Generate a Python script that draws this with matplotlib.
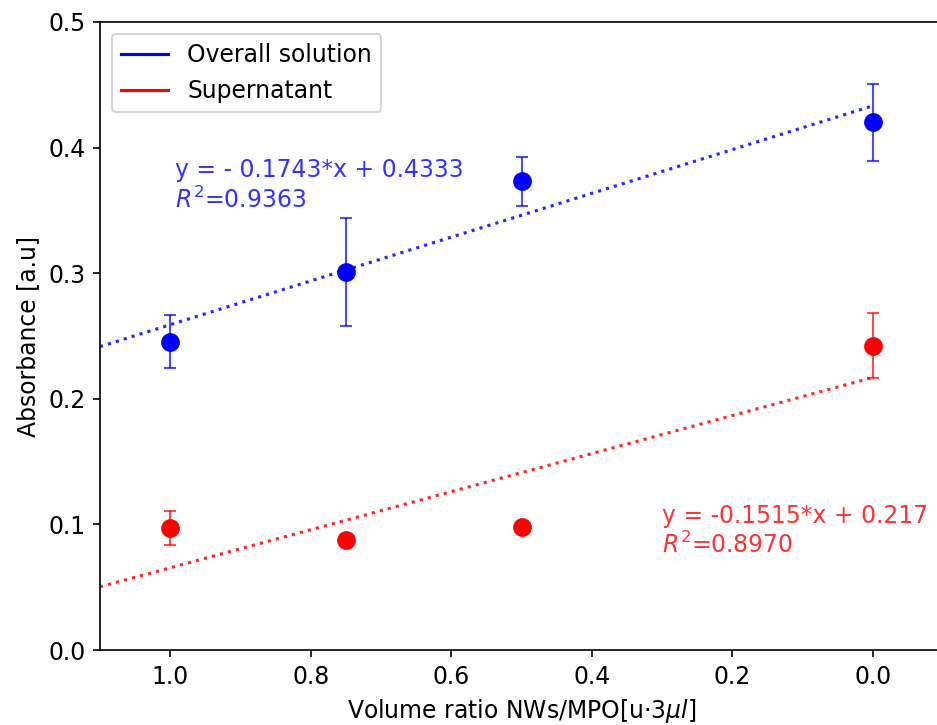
import numpy as np
import matplotlib

matplotlib.use('Agg')
import matplotlib.pyplot as plt

plt.rcParams['font.size'] = 11.3

x = np.array([1.0, 0.75, 0.5, 0.0])

overall = np.array([0.2455, 0.301, 0.373, 0.420])
overall_err = np.array([0.021, 0.043, 0.0195, 0.031])

superna = np.array([0.0974, 0.0876, 0.0982, 0.2423])
superna_err = np.array([0.0135, 0.0, 0.0, 0.026])

fit_x = np.array([1.1, 0.0])
overall_fit = (-0.1743, 0.4333)
superna_fit = (-0.1515, 0.217)

fig = plt.figure(figsize=(937 / 150, 725 / 150), dpi=150)
ax = fig.add_axes([0.1067, 0.1034, 0.9, 0.8663])

ax.plot([], [], 'b-', label='Overall solution')
ax.plot([], [], 'r-', label='Supernatant')

ax.errorbar(x, overall, yerr=overall_err, fmt='o', color='b', markersize=8,
            ecolor=(0, 0, 1, 0.7), elinewidth=1, capsize=3)
ax.errorbar(x, superna, yerr=superna_err, fmt='o', color='r', markersize=8,
            ecolor=(1, 0, 0, 0.7), elinewidth=1, capsize=3)

ax.plot(fit_x, overall_fit[0] * fit_x + overall_fit[1], ':', color='b', alpha=0.85, linewidth=1.5)
ax.plot(fit_x, superna_fit[0] * fit_x + superna_fit[1], ':', color='r', alpha=0.85, linewidth=1.5)

ax.text(0.993, 0.352, 'y = - 0.1743*x + 0.4333\n$R^2$=0.9363', color='b', alpha=0.8)
ax.text(0.3, 0.077, 'y = -0.1515*x + 0.217\n$R^2$=0.8970', color='r', alpha=0.8)

ax.set_xlim(1.1, -0.1)
ax.set_ylim(0, 0.5)
ax.set_xticks([1.0, 0.8, 0.6, 0.4, 0.2, 0.0])
ax.set_xlabel(r'Volume ratio NWs/MPO[u$\cdot$3$\mu l$]')
ax.set_ylabel('Absorbance [a.u]')
ax.legend(loc='upper left')

plt.savefig('out.png', dpi=150)
